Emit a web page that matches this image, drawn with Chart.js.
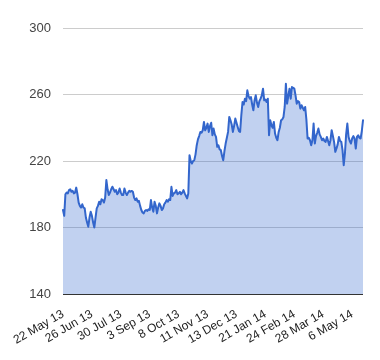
<!DOCTYPE html>
<html>
<head>
<meta charset="utf-8">
<script src="https://cdn.jsdelivr.net/npm/chart.js@4/dist/chart.umd.min.js"></script>
<style>
  html, body { margin: 0; padding: 0; background: #fff; }
  canvas { display: block; }
</style>
</head>
<body>
<canvas id="chart" width="380" height="360"></canvas>
<script>
// --- DATA ---
// one label every 24 trading days
const tickLabels = ['22 May 13', '26 Jun 13', '30 Jul 13', '3 Sep 13', '8 Oct 13', '11 Nov 13',
                    '13 Dec 13', '21 Jan 14', '24 Feb 14', '28 Mar 14', '6 May 14'];
const tickEvery = 24;

const yTicks = [140, 180, 220, 260, 300];

// daily close
const prices = [
  190.5, 187, 200, 201, 200.5, 202.5, 203, 201.5, 202, 200.5,
  201, 204, 200, 195, 193, 192, 194, 192, 191.5, 186,
  183, 180.5, 186, 189.5, 187, 183, 180, 186, 191.5, 193,
  195.5, 194, 197, 196.5, 195, 198, 208.5, 203, 199.5, 201,
  203, 204.5, 203, 201.5, 202.5, 200, 201, 203.5, 201, 199.5,
  199.5, 203.5, 201, 199.5, 201, 202, 201.5, 202, 201.5, 198,
  196.5, 197.5, 195.5, 196, 193, 190.5, 189, 188.5, 190, 190.5,
  190, 191, 190.5, 196.5, 192, 189.5, 195.5, 193, 188.5, 192,
  194.5, 193, 190.5, 191.5, 194, 195, 196.5, 195.5, 197, 196.5,
  204.5, 199, 200.5, 201, 202.5, 200, 200.5, 201.5, 200, 201,
  202.5, 200.5, 199, 197.5, 200.5, 223.5, 220, 218.5, 220, 220.5,
  224, 229.5, 233, 235, 237.5, 237, 238.5, 243.5, 238.5, 240,
  242.5, 237.5, 241, 243, 235.5, 239.5, 236, 234.5, 228.5, 229.5,
  227, 226.5, 223, 220.5, 226, 230.5, 234, 237.5, 246.5, 244.5,
  242, 237.5, 241, 245.5, 243, 240.5, 238, 237.5, 247.5, 255.5,
  254, 257.5, 256, 262.5, 259, 257.5, 258.5, 254, 250.5, 256.5,
  259.5, 255, 252.5, 256, 257.5, 259.5, 263.5, 256.5, 257, 255.5,
  257.5, 235.5, 244.5, 241.5, 240, 243.5, 236.5, 234, 232.5, 237.5,
  240, 244.5, 245, 246.5, 252.5, 266.5, 254.5, 259, 263.5, 257.5,
  264.5, 264, 263.5, 259.5, 254.5, 256, 255.5, 251.5, 253.5, 252,
  250.5, 252.5, 245, 233.5, 234, 232.5, 229.5, 232.5, 242.5, 230.5,
  235, 237, 239.5, 236, 234.5, 232.5, 233.5, 232, 231.5, 234.5,
  232, 229.5, 232.5, 238.5, 235, 231.5, 225.5, 227.5, 230, 234.5,
  232, 231.5, 226.5, 217.5, 224.5, 236, 242.5, 234.5, 232, 230.5,
  233.5, 235, 233.5, 227.5, 234.5, 235.5, 234, 233.5, 238, 244.5
];

// category labels: blank except every 24th day
const labels = prices.map((p, i) => i % tickEvery === 0 ? (tickLabels[i / tickEvery] || '') : '');

// --- CHART ---
const ctx = document.getElementById('chart').getContext('2d');

new Chart(ctx, {
  type: 'line',
  data: {
    labels: labels,
    datasets: [{
      data: prices,
      borderColor: '#3366cc',
      borderWidth: 2,
      borderJoinStyle: 'round',
      borderCapStyle: 'round',
      backgroundColor: 'rgba(51,102,204,0.3)',
      fill: 'start',
      pointRadius: 0,
      tension: 0
    }]
  },
  options: {
    responsive: false,
    animation: false,
    devicePixelRatio: 1,
    layout: { padding: { top: 28, right: 17, left: 0, bottom: 0 } },
    plugins: { legend: { display: false }, tooltip: { enabled: false } },
    scales: {
      x: {
        grid: { display: false },
        border: { display: false },
        ticks: {
          autoSkip: false,
          minRotation: 30,
          maxRotation: 30,
          padding: 5,
          color: '#222',
          font: { family: 'Liberation Sans, Arial', size: 12 }
        },
        afterFit: (scale) => { scale.height = 66; }
      },
      y: {
        min: yTicks[0],
        max: yTicks[yTicks.length - 1],
        afterBuildTicks: (scale) => { scale.ticks = yTicks.map(v => ({ value: v })); },
        border: { display: false },
        grid: {
          drawTicks: false,
          color: (c) => c.tick && c.tick.value === 140 ? '#333' : '#ccc',
          lineWidth: 1
        },
        ticks: {
          padding: 12,
          color: '#444',
          font: { family: 'Liberation Sans, Arial', size: 13 }
        },
        afterFit: (scale) => { scale.width = 63; }
      }
    }
  }
});
</script>
</body>
</html>
